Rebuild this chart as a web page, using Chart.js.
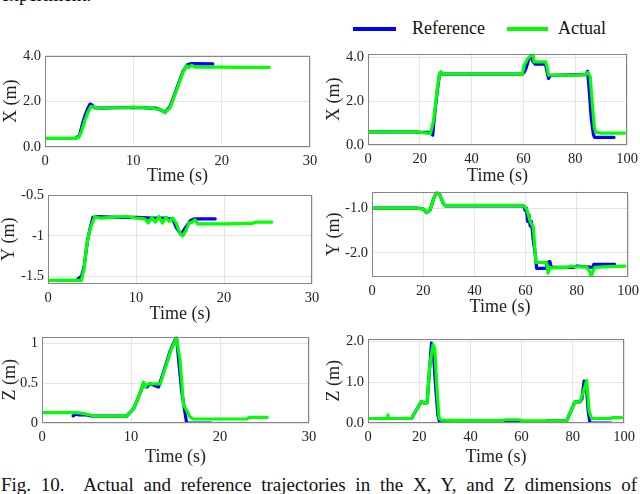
<!DOCTYPE html>
<html><head><meta charset="utf-8">
<script src="https://cdn.jsdelivr.net/npm/chart.js@4"></script>
<style>
body{margin:0;width:640px;height:494px;overflow:hidden;background:#fff;position:relative;font-family:"Liberation Serif","Times New Roman",serif;color:#111}
canvas{position:absolute}
.t{position:absolute;white-space:nowrap}
.sw{position:absolute;height:4px}
</style></head><body>
<div class="t" style="left:1px;top:-15px;font-size:19px;line-height:20px">experiment.</div>
<div class="sw" style="left:353px;top:27px;width:43px;background:#0000ff"></div>
<div class="t" id="legRef" style="left:412px;top:18px;font-size:18px;line-height:20px"></div>
<div class="sw" style="left:507px;top:27px;width:41px;background:#00ff00"></div>
<div class="t" id="legAct" style="left:558px;top:18px;font-size:18px;line-height:20px"></div>
<div class="t" style="left:1px;top:474px;width:636px;font-size:19px;line-height:22px;text-align:justify;text-align-last:justify;white-space:normal">Fig. 10.&nbsp; Actual and reference trajectories in the X, Y, and Z dimensions of</div>
<script>
// ---------- legend / labels ----------
const seriesNames = ['Reference', 'Actual'];
const xTitle = 'Time (s)';
const yTitles = ['X (m)', 'Y (m)', 'Z (m)'];

// ---------- tick labels ----------
const xTicksLeft = [0, 10, 20, 30];
const xTicksRight = [0, 20, 40, 60, 80, 100];
const yTicksXL = [0, 2, 4];          const yLabelsXL = ['0.0', '2.0', '4.0'];
const yTicksXR = [0, 2, 4];          const yLabelsXR = ['0.0', '2.0', '4.0'];
const yTicksYL = [-1.5, -1, -0.5];   const yLabelsYL = ['-1.5', '-1', '-0.5'];
const yTicksYR = [-2, -1];           const yLabelsYR = ['-2.0', '-1.0'];
const yTicksZL = [0, 0.5, 1];        const yLabelsZL = ['0', '0.5', '1'];
const yTicksZR = [0, 1, 2];          const yLabelsZR = ['0.0', '1.0', '2.0'];

// ---------- X, left experiment ----------
const refT_XL = [3.5, 3.9, 4.3, 4.55, 4.8, 5.1, 5.3, 5.6, 6.0, 8.0, 10.0, 11.0, 12.0, 12.6, 13.1, 13.6, 14.2, 14.9, 15.6, 16.1, 16.5, 19.0];
const refV_XL = [0.40, 0.50, 1.10, 1.40, 1.65, 1.88, 1.85, 1.72, 1.70, 1.72, 1.73, 1.72, 1.70, 1.70, 1.62, 1.52, 1.80, 2.55, 3.30, 3.60, 3.65, 3.64];
const actT_XL = [0, 3.4, 3.8, 4.1, 4.5, 4.9, 5.2, 5.5, 5.9, 6.5, 8, 9.5, 10.0, 10.5, 11.0, 11.5, 12.0, 12.5, 13.0, 13.6, 14.2, 14.9, 15.6, 16.0, 16.3, 16.6, 17.0, 20, 23, 25.4];
const actV_XL = [0.38, 0.38, 0.42, 0.65, 1.15, 1.55, 1.78, 1.75, 1.68, 1.72, 1.72, 1.73, 1.76, 1.72, 1.74, 1.69, 1.72, 1.67, 1.66, 1.50, 1.75, 2.50, 3.25, 3.55, 3.48, 3.58, 3.50, 3.50, 3.49, 3.49];

// ---------- Y, left experiment ----------
const refT_YL = [3.4, 3.8, 4.1, 4.5, 4.8, 5.1, 5.5, 8, 10, 12, 13.5, 14.2, 14.6, 15.1, 15.6, 16.2, 16.6, 19.0];
const refV_YL = [-1.53, -1.50, -1.38, -1.05, -0.90, -0.77, -0.76, -0.77, -0.77, -0.78, -0.78, -0.80, -0.90, -0.98, -0.90, -0.81, -0.79, -0.79];
const actT_YL = [0, 3.8, 4.1, 4.4, 4.7, 5.0, 5.3, 6.0, 7.0, 9.0, 10.0, 11.0, 11.4, 11.8, 12.2, 12.6, 13.0, 13.4, 13.8, 14.2, 14.6, 15.0, 15.3, 15.7, 16.0, 16.4, 16.7, 17.0, 20, 23.2, 23.6, 25.4];
const actV_YL = [-1.55, -1.55, -1.40, -1.12, -0.95, -0.85, -0.76, -0.78, -0.77, -0.76, -0.78, -0.79, -0.84, -0.77, -0.83, -0.76, -0.84, -0.77, -0.82, -0.78, -0.85, -0.97, -1.00, -0.93, -0.84, -0.83, -0.80, -0.85, -0.85, -0.845, -0.83, -0.83];

// ---------- Z, left experiment ----------
const refT_ZL = [3.5, 3.8, 4.2, 4.6, 5.0, 5.5, 6.0, 9.5, 10.3, 11.0, 11.4, 11.8, 12.1, 13.1, 13.6, 14.4, 15.1, 15.7, 16.25, 19.0];
const refV_ZL = [0.09, 0.11, 0.10, 0.10, 0.10, 0.09, 0.085, 0.085, 0.18, 0.37, 0.49, 0.45, 0.49, 0.45, 0.62, 0.90, 1.08, 0.39, 0.0, 0.0];
const actT_ZL = [0, 3.9, 4.6, 5.4, 6.0, 9.5, 10.3, 11.0, 11.4, 11.6, 11.8, 12.0, 13.3, 13.6, 14.4, 15.1, 15.5, 15.9, 16.2, 16.6, 17.0, 20, 23.0, 23.3, 25.3];
const actV_ZL = [0.13, 0.13, 0.12, 0.10, 0.085, 0.085, 0.18, 0.37, 0.51, 0.45, 0.48, 0.49, 0.49, 0.60, 0.88, 1.07, 0.80, 0.22, 0.17, 0.08, 0.05, 0.05, 0.05, 0.07, 0.07];

// ---------- X, right experiment ----------
const refT_XR = [0, 18, 20, 24, 25.0, 25.4, 26.7, 27.6, 28.2, 29, 59.5, 60.3, 61.0, 62.2, 63.0, 63.7, 64.5, 68.5, 69.2, 69.7, 70.5, 84, 84.8, 85.4, 86.2, 87.0, 87.4, 95];
const refV_XR = [0.60, 0.60, 0.58, 0.58, 0.45, 1.0, 2.4, 3.2, 3.30, 3.22, 3.22, 3.30, 3.48, 3.95, 4.05, 3.80, 3.68, 3.68, 3.30, 3.03, 3.17, 3.20, 3.35, 2.50, 1.20, 0.50, 0.35, 0.35];
const actT_XR = [0, 17.7, 18.5, 20, 24.1, 25.4, 26.7, 27.6, 28.3, 29, 45, 59.6, 60.3, 61.5, 62.8, 63.7, 64.1, 68.6, 69.0, 69.7, 70.5, 80, 84, 84.8, 85.8, 86.7, 87.4, 88, 90, 99];
const actV_XR = [0.60, 0.60, 0.62, 0.58, 0.52, 1.16, 2.50, 3.25, 3.33, 3.22, 3.22, 3.22, 3.63, 3.90, 4.07, 4.18, 3.78, 3.78, 3.60, 3.18, 3.17, 3.17, 3.20, 3.30, 3.10, 1.76, 0.80, 0.57, 0.54, 0.54];

// ---------- Y, right experiment ----------
const refT_YR = [0, 17.5, 20, 21.4, 22.7, 24, 25.3, 26.4, 27.7, 28.6, 30, 59.2, 59.8, 60.3, 60.8, 61.3, 61.8, 62.3, 63, 63.7, 64.3, 68.2, 68.4, 69.5, 70, 78.6, 80, 86.4, 86.6, 94.8];
const refV_YR = [-1.0, -1.0, -1.02, -1.1, -1.04, -0.8, -0.63, -0.69, -0.88, -0.95, -0.95, -0.95, -1.05, -1.0, -1.30, -1.15, -1.40, -1.30, -1.72, -2.0, -2.35, -2.35, -2.22, -2.20, -2.33, -2.33, -2.30, -2.33, -2.26, -2.26];
const actT_YR = [0, 17.5, 20, 21.4, 22.7, 24, 25.3, 26.4, 27.7, 28.6, 30, 59, 60.4, 61.7, 63.0, 63.5, 64.0, 68.2, 68.8, 69.4, 70, 76, 78, 80, 83.8, 85.0, 85.7, 86.4, 87.0, 90, 98.7];
const actV_YR = [-1.0, -1.0, -1.02, -1.1, -1.04, -0.8, -0.63, -0.69, -0.88, -0.95, -0.94, -0.94, -1.02, -1.28, -1.43, -1.8, -2.22, -2.22, -2.46, -2.33, -2.34, -2.33, -2.30, -2.32, -2.32, -2.42, -2.53, -2.40, -2.33, -2.32, -2.30];

// ---------- Z, right experiment ----------
const refT_ZR = [0, 17, 18.9, 20.9, 22.2, 23.1, 23.8, 24.8, 25.4, 26.4, 27.3, 28.0, 28.8, 59.0, 59.3, 69.8, 70.0, 77.6, 80.8, 82.8, 83.6, 84.4, 85.2, 86.0, 86.7, 95];
const refV_ZR = [0.11, 0.11, 0.32, 0.53, 0.48, 0.50, 1.10, 1.96, 1.88, 0.90, 0.20, 0.0, 0.05, 0.05, 0.02, 0.02, 0.05, 0.05, 0.52, 0.52, 0.60, 1.03, 1.00, 0.30, 0.0, 0.0];
const actT_ZR = [0, 7.6, 7.8, 8.0, 17, 18.9, 20.9, 22.2, 23.1, 24.1, 25.4, 26.1, 27.0, 27.8, 28.7, 40, 52.8, 53.2, 59.3, 59.8, 77.6, 80.8, 82.8, 84.1, 85.4, 86.4, 87.4, 94.5, 95.5, 99];
const actV_ZR = [0.11, 0.11, 0.20, 0.11, 0.11, 0.32, 0.53, 0.48, 0.50, 1.41, 1.93, 1.81, 0.76, 0.11, 0.07, 0.06, 0.06, 0.08, 0.08, 0.05, 0.05, 0.52, 0.52, 0.76, 1.04, 0.28, 0.11, 0.11, 0.13, 0.13];

document.getElementById('legRef').textContent = seriesNames[0];
document.getElementById('legAct').textContent = seriesNames[1];

// ---------- layout (plot box, y-title centre x, x-title middle y) ----------
const panels = [
  {L:44.5, T:55,    R:310,   B:146.7, tx:10.3, ty:176,   xmax:30,  xt:xTicksLeft,  ymin:0,      ymax:4.0,   yt:yTicksXL, yl:yLabelsXL, title:yTitles[0], rt:refT_XL, rv:refV_XL, at:actT_XL, av:actV_XL},
  {L:367.7, T:53.3, R:626.7, B:145,   tx:334,  ty:176,   xmax:100, xt:xTicksRight, ymin:0,      ymax:4.15,  yt:yTicksXR, yl:yLabelsXR, title:yTitles[0], rt:refT_XR, rv:refV_XR, at:actT_XR, av:actV_XR},
  {L:48.3, T:194,   R:312.3, B:284,   tx:8.8,  ty:314,   xmax:30,  xt:xTicksLeft,  ymin:-1.595, ymax:-0.49, yt:yTicksYL, yl:yLabelsYL, title:yTitles[1], rt:refT_YL, rv:refV_YL, at:actT_YL, av:actV_YL},
  {L:371.7, T:190.7,R:628.3, B:277.3, tx:334,  ty:307.3, xmax:100, xt:xTicksRight, ymin:-2.545, ymax:-0.632,yt:yTicksYR, yl:yLabelsYR, title:yTitles[1], rt:refT_YR, rv:refV_YR, at:actT_YR, av:actV_YR},
  {L:41.7, T:336,   R:309.3, B:423,   tx:9.7,  ty:457,   xmax:30,  xt:xTicksLeft,  ymin:0,      ymax:1.08,  yt:yTicksZL, yl:yLabelsZL, title:yTitles[2], rt:refT_ZL, rv:refV_ZL, at:actT_ZL, av:actV_ZL},
  {L:368.3, T:337.7,R:624,   B:423.3, tx:334,  ty:457,   xmax:100, xt:xTicksRight, ymin:0,      ymax:2.07,  yt:yTicksZR, yl:yLabelsZR, title:yTitles[2], rt:refT_ZR, rv:refV_ZR, at:actT_ZR, av:actV_ZR}
];

const FONT = '"Liberation Serif", "Times New Roman", serif';
Chart.defaults.font.family = FONT;
Chart.defaults.color = '#222';
const PAD_T = 12, PAD_R = 16, TITLE_SZ = 18, HALF = TITLE_SZ * 1.2 / 2;

const framePlugin = {
  id: 'frame',
  afterDatasetsDraw(chart) {
    const a = chart.chartArea, ctx = chart.ctx;
    ctx.save();
    ctx.strokeStyle = '#858585';
    ctx.lineWidth = 1;
    ctx.strokeRect(Math.round(a.left) + 0.5, Math.round(a.top) + 0.5, Math.round(a.right - a.left) - 1, Math.round(a.bottom - a.top) - 1);
    ctx.restore();
  }
};

function pts(t, v) { return t.map((x, i) => ({x: x, y: v[i]})); }

panels.forEach(p => {
  const cl = Math.round(p.tx - HALF);
  const ct = Math.round(p.T - PAD_T);
  const cr = Math.round(p.R + PAD_R);
  const cb = Math.round(p.ty + HALF);
  const yw = Math.round(p.L) - cl;
  const xh = cb - Math.round(p.B);
  const cv = document.createElement('canvas');
  cv.width = cr - cl; cv.height = cb - ct;
  cv.style.left = cl + 'px'; cv.style.top = ct + 'px';
  cv.style.width = (cr - cl) + 'px'; cv.style.height = (cb - ct) + 'px';
  document.body.appendChild(cv);
  new Chart(cv, {
    type: 'line',
    data: {
      datasets: [
        {label: seriesNames[1], data: pts(p.at, p.av), borderColor: '#00ff00', borderWidth: 3.2, pointRadius: 0, tension: 0, order: 0, borderJoinStyle: 'round', borderCapStyle: 'round'},
        {label: seriesNames[0], data: pts(p.rt, p.rv), borderColor: '#0000ff', borderWidth: 3.2, pointRadius: 0, tension: 0, order: 1, borderJoinStyle: 'round', borderCapStyle: 'round'}
      ]
    },
    options: {
      responsive: false, animation: false, devicePixelRatio: 1,
      layout: {padding: {top: PAD_T, right: PAD_R, left: 0, bottom: 0}},
      plugins: {legend: {display: false}, tooltip: {enabled: false}},
      scales: {
        x: {
          type: 'linear', min: 0, max: p.xmax,
          afterBuildTicks: s => { s.ticks = p.xt.map(v => ({value: v})); },
          afterFit: s => { s.height = xh; },
          grid: {color: '#e4e4e4', drawTicks: false, lineWidth: 1},
          border: {display: false},
          ticks: {padding: 5, color: '#222', font: {family: FONT, size: 14.5}, maxRotation: 0, autoSkip: false, callback: v => String(v)},
          title: {display: true, text: xTitle, color: '#222', font: {family: FONT, size: TITLE_SZ}, padding: {top: 0, bottom: 0}}
        },
        y: {
          type: 'linear', min: p.ymin, max: p.ymax,
          afterBuildTicks: s => { s.ticks = p.yt.map(v => ({value: v})); },
          afterFit: s => { s.width = yw; },
          grid: {color: '#e4e4e4', drawTicks: false, lineWidth: 1},
          border: {display: false},
          ticks: {padding: 4, color: '#222', font: {family: FONT, size: 14.5}, autoSkip: false,
                  callback: v => { const i = p.yt.indexOf(v); return i >= 0 ? p.yl[i] : ''; }},
          title: {display: true, text: p.title, color: '#222', font: {family: FONT, size: TITLE_SZ}, padding: {top: 0, bottom: 0}}
        }
      }
    },
    plugins: [framePlugin]
  });
});
</script>
</body></html>
